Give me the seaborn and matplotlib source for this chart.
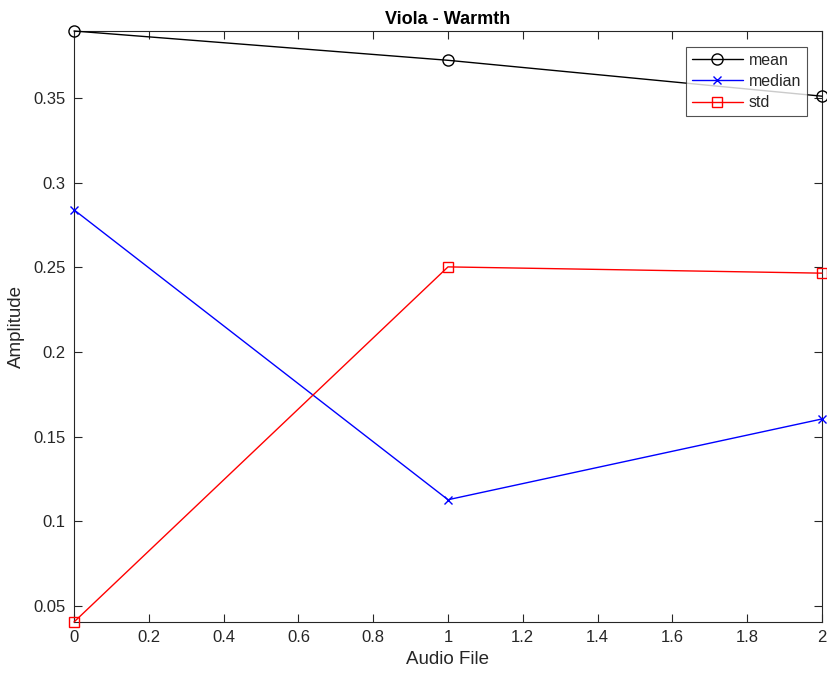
import matplotlib
matplotlib.use("Agg")
import matplotlib.pyplot as plt
import seaborn as sns
import pandas as pd

audio_file = [0, 1, 2]
mean_vals = [0.3896, 0.3723, 0.3511]
median_vals = [0.2840, 0.1128, 0.1605]
std_vals = [0.0406, 0.2503, 0.2466]
y_ticks = [0.05, 0.1, 0.15, 0.2, 0.25, 0.3, 0.35]
y_tick_labels = ["0.05", "0.1", "0.15", "0.2", "0.25", "0.3", "0.35"]
x_ticks = [0, 0.2, 0.4, 0.6, 0.8, 1, 1.2, 1.4, 1.6, 1.8, 2]
x_tick_labels = ["0", "0.2", "0.4", "0.6", "0.8", "1", "1.2", "1.4", "1.6", "1.8", "2"]

sns.set_theme(style="ticks", rc={"xtick.direction": "in", "ytick.direction": "in",
                                 "xtick.top": True, "ytick.right": True,
                                 "xtick.bottom": True, "ytick.left": True})
plt.rcParams['font.family'] = ['Liberation Sans', 'DejaVu Sans']

df = pd.DataFrame({"x": audio_file, "mean": mean_vals, "median": median_vals, "std": std_vals})

fig = plt.figure(figsize=(8.28, 6.77), dpi=100)
ax = fig.add_axes([74/828, 1-622/677, (822-74)/828, (622-31)/677])

sns.lineplot(data=df, x="x", y="mean", ax=ax, color="black", marker="o", markersize=8,
             markerfacecolor="none", markeredgecolor="black", markeredgewidth=1, linewidth=1, label="mean")
sns.lineplot(data=df, x="x", y="median", ax=ax, color="blue", marker="x", markersize=6,
             markeredgecolor="blue", markeredgewidth=1, linewidth=1, label="median")
sns.lineplot(data=df, x="x", y="std", ax=ax, color="red", marker="s", markersize=7,
             markerfacecolor="none", markeredgecolor="red", markeredgewidth=1, linewidth=1, label="std")
for ln in ax.lines:
    ln.set_clip_on(False)
    ln.set_zorder(5)

ax.set_xlim(0, 2)
ax.set_ylim(min(std_vals), max(mean_vals))
ax.set_xticks(x_ticks)
ax.set_xticklabels(x_tick_labels)
ax.set_yticks(y_ticks)
ax.set_yticklabels(y_tick_labels)
ax.tick_params(axis="both", which="major", direction="in", length=6, width=0.8, color="#262626",
               labelsize=12, top=True, right=True, bottom=True, left=True,
               labelcolor="#262626", pad=6)
for s in ax.spines.values():
    s.set_color("#262626")
    s.set_linewidth(0.8)
    s.set_visible(True)

ax.set_xlabel("Audio File", fontsize=13.5, color="#262626", labelpad=4)
ax.set_ylabel("Amplitude", fontsize=13.5, color="#262626", labelpad=6)
ax.set_title("Viola - Warmth", fontsize=13, fontweight="bold", color="black", pad=5)

leg = ax.legend(loc="upper right", bbox_to_anchor=(0.98, 0.973), fontsize=11.5, frameon=True,
                fancybox=False, edgecolor="#262626", handlelength=3.2, borderpad=0.35,
                labelspacing=0.4, handletextpad=0.4, borderaxespad=0)
leg.get_frame().set_linewidth(0.8)

fig.savefig("out.png", dpi=100)
